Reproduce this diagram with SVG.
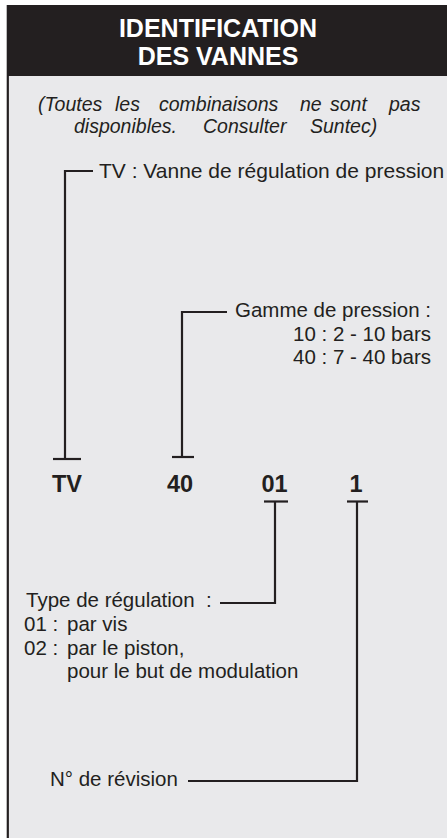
<svg xmlns="http://www.w3.org/2000/svg" width="447" height="838" viewBox="0 0 447 838">
  <style>
    text { font-family: "Liberation Sans", Arial, Helvetica, sans-serif; fill: #231f20; }
    .hdr { font-size: 25px; font-weight: bold; fill: #ffffff; text-anchor: middle; }
    .note { font-size: 19.5px; font-style: italic; }
    .lbl { font-size: 20.5px; }
    .code { font-size: 23.5px; font-weight: bold; text-anchor: middle; }
    .ln { stroke: #231f20; stroke-width: 2.2; fill: none; stroke-linecap: butt; }
  </style>
  <rect x="0" y="0" width="447" height="838" fill="#ffffff"/>
  <rect x="7" y="5" width="440" height="833" fill="#e9e9eb"/>
  <rect x="7" y="5" width="440" height="71" fill="#231f20"/>
  <line x1="7.8" y1="5" x2="7.8" y2="838" stroke="#231f20" stroke-width="2.2"/>
  <g id="title">
    <text class="hdr" x="218" y="37">IDENTIFICATION</text>
    <text class="hdr" x="218" y="65">DES VANNES</text>
  </g>
  <g id="note">
    <text class="note" y="111"><tspan x="38">(Toutes</tspan><tspan x="115">les</tspan><tspan x="159">combinaisons</tspan><tspan x="300">ne</tspan><tspan x="330">sont</tspan><tspan x="389">pas</tspan></text>
    <text class="note" y="133"><tspan x="74">disponibles.</tspan><tspan x="203">Consulter</tspan><tspan x="310">Suntec)</tspan></text>
  </g>
  <g id="code-tv">
    <text class="code" x="67" y="492">TV</text>
  </g>
  <g id="code-40">
    <text class="code" x="180" y="492">40</text>
  </g>
  <g id="code-01">
    <text class="code" x="274.5" y="492">01</text>
  </g>
  <g id="code-1">
    <text class="code" x="356" y="492">1</text>
  </g>
  <g id="label-tv">
    <text class="lbl" x="99" y="178" style="font-size:21px">TV : Vanne de régulation de pression</text>
  </g>
  <g id="label-gamme">
    <text class="lbl" x="431" y="317" text-anchor="end">Gamme de pression :</text>
    <text class="lbl" x="431" y="341" text-anchor="end">10 : 2 - 10 bars</text>
    <text class="lbl" x="431" y="364" text-anchor="end">40 : 7 - 40 bars</text>
  </g>
  <g id="label-type">
    <text class="lbl" y="607"><tspan x="26">Type de régulation</tspan><tspan x="206">:</tspan></text>
    <text class="lbl" y="631"><tspan x="24">01 :</tspan><tspan x="67">par vis</tspan></text>
    <text class="lbl" y="655"><tspan x="24">02 :</tspan><tspan x="67">par le piston,</tspan></text>
    <text class="lbl" x="67" y="678">pour le but de modulation</text>
  </g>
  <g id="label-revision">
    <text class="lbl" x="50" y="786">N° de révision</text>
  </g>
  <g id="connectors">
    <polyline class="ln" points="93,171 65,171 65,459"/>
    <line class="ln" x1="53" y1="459" x2="81" y2="459"/>
    <polyline class="ln" points="227,312 182,312 182,457"/>
    <line class="ln" x1="172" y1="457" x2="194" y2="457"/>
    <line class="ln" x1="264" y1="501.5" x2="288" y2="501.5"/>
    <polyline class="ln" points="275,501.5 275,603 220,603"/>
    <line class="ln" x1="347" y1="501.5" x2="368" y2="501.5"/>
    <polyline class="ln" points="357,501.5 357,781 188,781"/>
  </g>
</svg>
